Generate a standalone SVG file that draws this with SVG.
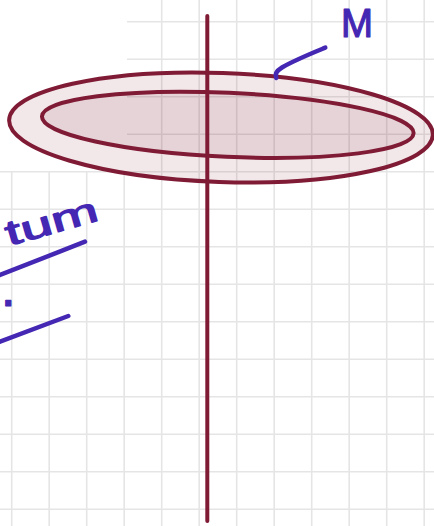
<svg xmlns="http://www.w3.org/2000/svg" width="434" height="526" viewBox="0 0 434 526">
<style>
.grid line{stroke:#e5e5e5;stroke-width:1.6}
.mar{stroke:#801b35;stroke-width:4;fill:none;stroke-linecap:round}
.ink{stroke:#4427b3;stroke-width:4.5;fill:none;stroke-linecap:round;stroke-linejoin:round}
.hand{font-family:"Liberation Sans","DejaVu Sans",sans-serif;fill:#4427b3;stroke:#4427b3;stroke-width:1.2;stroke-linejoin:round}
</style>
<rect width="434" height="526" fill="#ffffff"/>
<g id="grid" class="grid">
<line x1="11.7" y1="171.8" x2="11.7" y2="526"/>
<line x1="49.2" y1="171.8" x2="49.2" y2="526"/>
<line x1="86.7" y1="171.8" x2="86.7" y2="526"/>
<line x1="124.2" y1="171.8" x2="124.2" y2="526"/>
<line x1="161.7" y1="0" x2="161.7" y2="526"/>
<line x1="199.2" y1="0" x2="199.2" y2="526"/>
<line x1="236.7" y1="0" x2="236.7" y2="526"/>
<line x1="274.2" y1="0" x2="274.2" y2="526"/>
<line x1="311.7" y1="0" x2="311.7" y2="526"/>
<line x1="349.2" y1="0" x2="349.2" y2="526"/>
<line x1="386.7" y1="0" x2="386.7" y2="526"/>
<line x1="424.2" y1="0" x2="424.2" y2="526"/>
<line x1="127" y1="21.8" x2="434" y2="21.8"/>
<line x1="127" y1="59.3" x2="434" y2="59.3"/>
<line x1="127" y1="96.8" x2="434" y2="96.8"/>
<line x1="127" y1="134.3" x2="434" y2="134.3"/>
<line x1="0" y1="171.8" x2="434" y2="171.8"/>
<line x1="0" y1="209.3" x2="434" y2="209.3"/>
<line x1="0" y1="246.8" x2="434" y2="246.8"/>
<line x1="0" y1="284.3" x2="434" y2="284.3"/>
<line x1="0" y1="321.8" x2="434" y2="321.8"/>
<line x1="0" y1="359.3" x2="434" y2="359.3"/>
<line x1="0" y1="396.8" x2="434" y2="396.8"/>
<line x1="0" y1="434.3" x2="434" y2="434.3"/>
<line x1="0" y1="471.8" x2="434" y2="471.8"/>
<line x1="0" y1="509.3" x2="434" y2="509.3"/>
</g>
<g id="disc-outer">
<ellipse cx="221" cy="127.5" rx="212" ry="54.5" transform="rotate(2 221 127.5)" class="mar" style="fill:rgba(128,27,53,0.1)"/>
</g>
<g id="disc-inner">
<ellipse cx="227.8" cy="124.8" rx="186" ry="32" transform="rotate(2.6 227.8 124.8)" class="mar" style="fill:rgba(128,27,53,0.1)"/>
</g>
<g id="axis">
<line x1="207.3" y1="16" x2="207.3" y2="521" class="mar"/>
</g>
<g id="connectors">
<path d="M276.3,78 C274.5,74 277,70.5 282,67.5 C295,60 310,54 325.3,47.7" class="ink"/>
</g>
<g id="label-M">
<text x="341" y="37" class="hand" font-size="40" textLength="32" lengthAdjust="spacingAndGlyphs">M</text>
</g>
<g id="label-tum">
<text transform="translate(9,246) rotate(-16)" class="hand" font-size="35" textLength="95" lengthAdjust="spacingAndGlyphs">tum</text>
<path d="M0,275 L85,241.7" class="ink"/>
<text x="3.3" y="305.8" class="hand" font-size="36" font-weight="bold">.</text>
<path d="M0,341.7 L68.3,316" class="ink"/>
</g>
</svg>
